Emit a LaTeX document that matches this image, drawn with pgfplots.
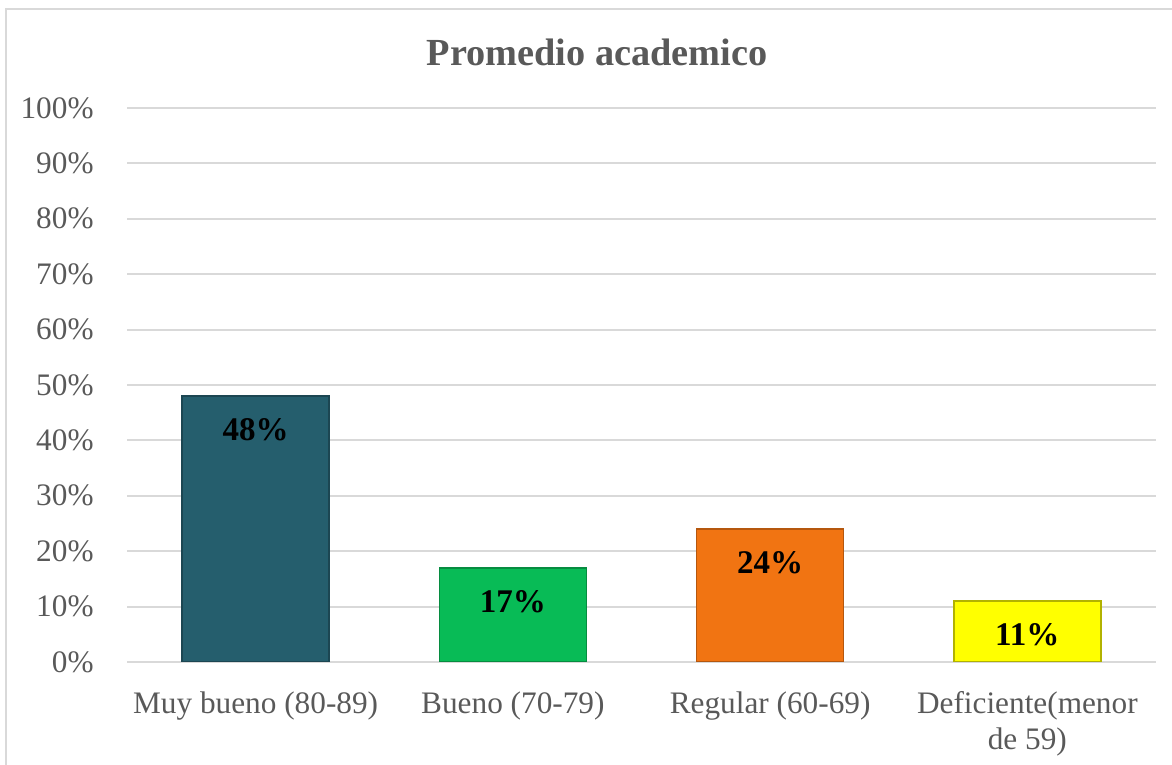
\documentclass[border=0pt]{standalone}
\usepackage{pgfplots}
\pgfplotsset{compat=1.18}
\usepackage{fontspec}
\setmainfont{Liberation Serif}

\definecolor{gridgray}{HTML}{D9D9D9}
\definecolor{txtgray}{HTML}{595959}
\definecolor{cTeal}{HTML}{255E6D}
\definecolor{cGreen}{HTML}{08BB56}
\definecolor{cOrange}{HTML}{F17412}
\definecolor{cYellow}{HTML}{FFFF00}

\begin{document}
\begin{tikzpicture}
\path[use as bounding box] (0,0) rectangle (117.2mm,76.5mm);
\draw[gridgray, line width=0.6pt] (0.6mm,0) -- (0.6mm,75.6mm) -- (117.2mm,75.6mm);
\node[font=\fontsize{10.9}{13}\selectfont\bfseries, text=txtgray] at (59.7mm,71.3mm) {Promedio academico};

\begin{axis}[
    at={(12.7mm,10.3mm)}, anchor=south west,
    scale only axis,
    width=102.9mm, height=55.4mm,
    ybar, bar width=14.7mm, bar shift=0pt,
    xmin=-0.5, xmax=3.5,
    ymin=0, ymax=100,
    xtick={0,1,2,3},
    xticklabels={Muy bueno (80-89), Bueno (70-79), Regular (60-69), {Deficiente(menor\\de 59)}},
    ytick={0,10,...,100},
    yticklabel={\pgfmathprintnumber{\tick}\%},
    /pgf/number format/assume math mode=true,
    axis line style={draw=none},
    major tick length=0pt,
    ymajorgrids,
    grid style={gridgray, line width=0.6pt},
    ticklabel style={text=txtgray, font=\fontsize{8.9}{10.4}\selectfont},
    xticklabel style={align=center, yshift=-1.7mm},
    yticklabel style={xshift=-2.1mm},
    nodes near coords={\pgfmathprintnumber{\pgfplotspointmeta}\%},
    nodes near coords style={anchor=center, yshift=-3.4mm, font=\fontsize{9.4}{11}\selectfont\bfseries, text=black},
]
\addplot[fill=cTeal, draw=cTeal!75!black] coordinates {(0,48)};
\addplot[fill=cGreen, draw=cGreen!75!black] coordinates {(1,17)};
\addplot[fill=cOrange, draw=cOrange!75!black] coordinates {(2,24)};
\addplot[fill=cYellow, draw=cYellow!70!black] coordinates {(3,11)};
\end{axis}
\end{tikzpicture}
\end{document}
